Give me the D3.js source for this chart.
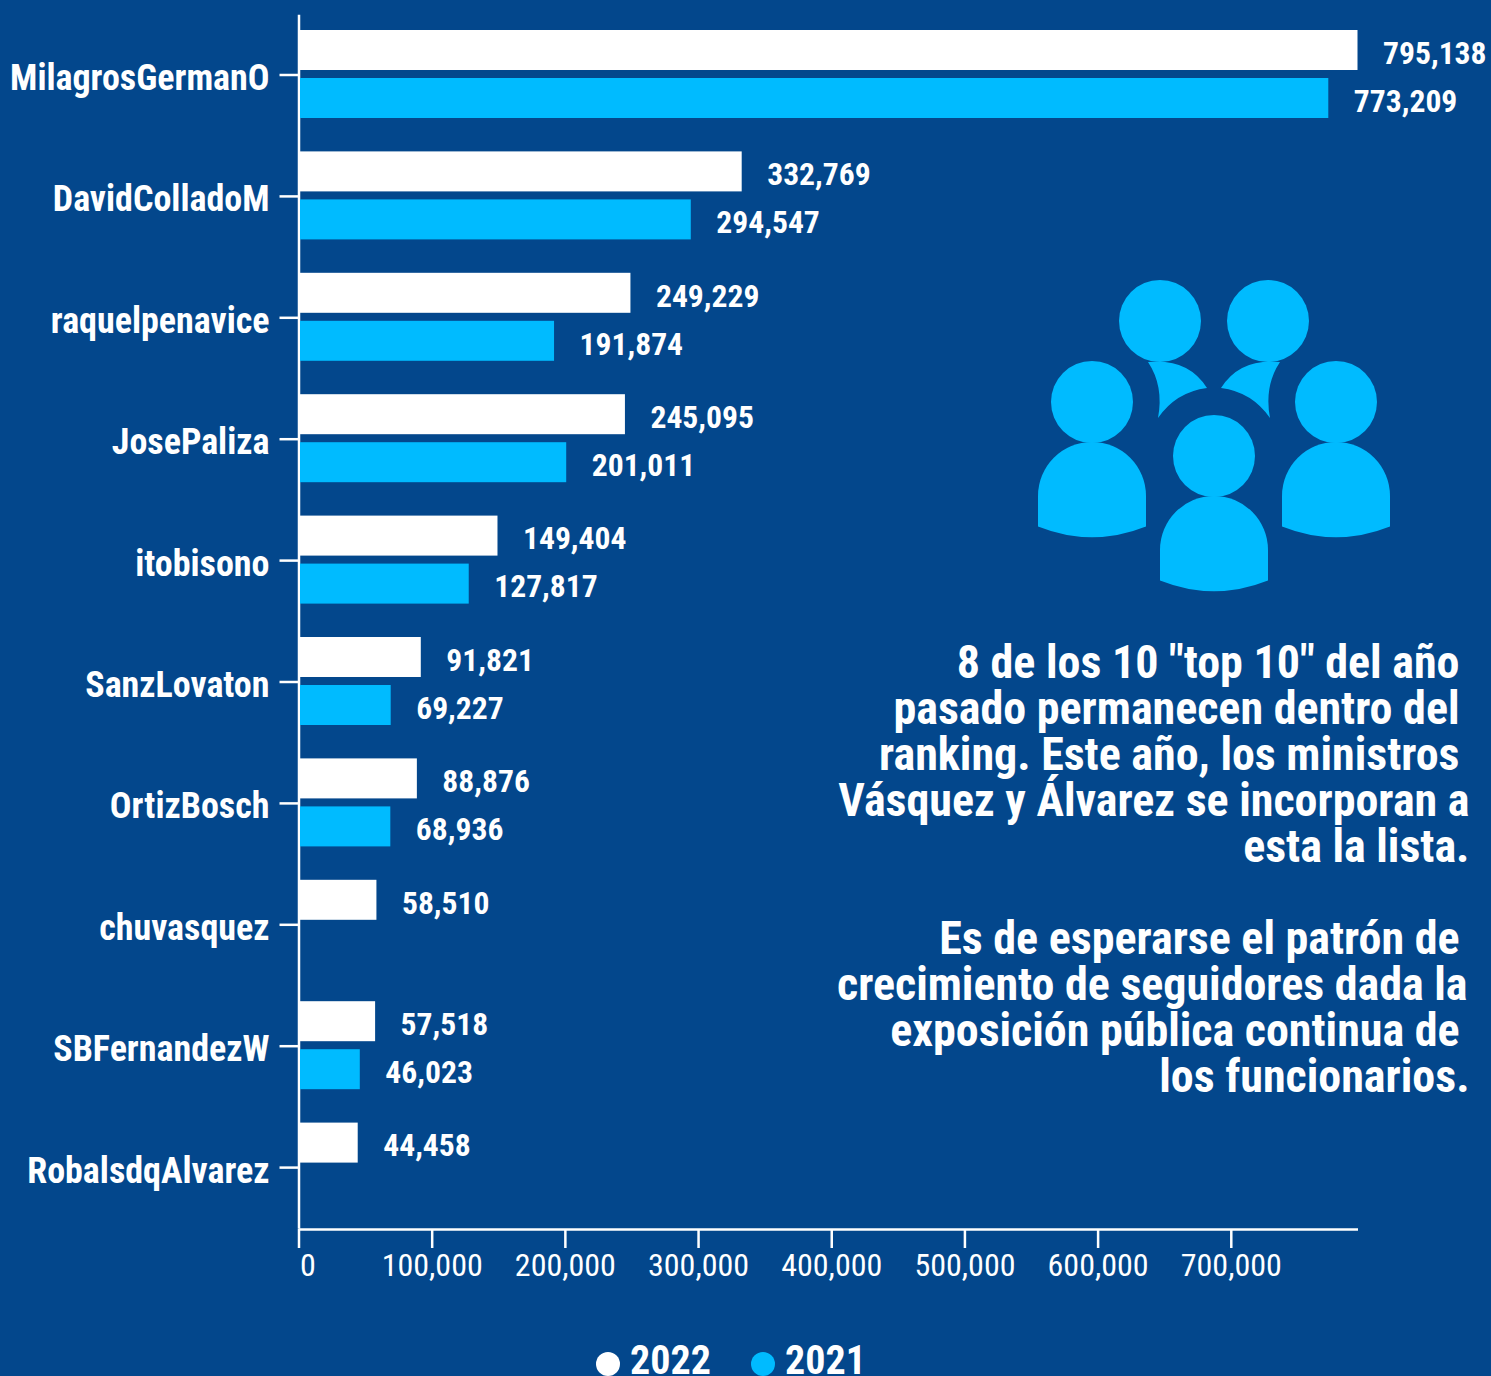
<!DOCTYPE html>
<html>
<head>
<meta charset="utf-8">
<script src="https://cdn.jsdelivr.net/npm/d3@7"></script>
<style>
html, body { margin: 0; padding: 0; background: #03478c; overflow: hidden; }
svg { display: block; }
text { font-family: "Roboto Condensed", Roboto, sans-serif; font-stretch: 75%; fill: #fff; }
</style>
</head>
<body>
<script>
const categories = ["MilagrosGermanO", "DavidColladoM", "raquelpenavice", "JosePaliza", "itobisono", "SanzLovaton", "OrtizBosch", "chuvasquez", "SBFernandezW", "RobalsdqAlvarez"];
const values2022 = [795138, 332769, 249229, 245095, 149404, 91821, 88876, 58510, 57518, 44458];
const values2021 = [773209, 294547, 191874, 201011, 127817, 69227, 68936, null, 46023, null];
const xTicks = [0, 100000, 200000, 300000, 400000, 500000, 600000, 700000];
const noteLines = [
	['8 de los 10 "top 10" del año', 1459.5],
	["pasado permanecen dentro del", 1459.5],
	["ranking. Este año, los ministros", 1459.5],
	["Vásquez y Álvarez se incorporan a", 1469.5],
	["esta la lista.", 1469.5],
	["", 0],
	["Es de esperarse el patrón de", 1459.5],
	["crecimiento de seguidores dada la", 1467.5],
	["exposición pública continua de", 1459.5],
	["los funcionarios.", 1469.5],
];

const WIDTH = 1491;
const HEIGHT = 1376;
const BLUE = "#00bbff";

const svg = d3.select("body").append("svg").attr("width", WIDTH).attr("height", HEIGHT);

const x = d3.scaleLinear().domain([0, 795138]).range([298.5, 1357.5]);
const y = d3.scaleBand().domain(categories).range([14.3, 1228.3]);
const fmt = d3.format(",");

// axes
const xAxis = svg.append("g").attr("transform", "translate(0,1229)")
	.call(d3.axisBottom(x).tickValues(xTicks).tickSizeInner(19).tickSizeOuter(0).tickFormat(fmt));
xAxis.selectAll("text").attr("font-size", 32).attr("dy", 0).attr("y", 47);
xAxis.selectAll("text").filter((d) => d === 0).attr("x", 9);

const yAxis = svg.append("g").attr("transform", "translate(298.5,0)")
	.call(d3.axisLeft(y).tickSizeInner(19).tickSizeOuter(0).tickPadding(10));
yAxis.selectAll("text").attr("font-size", 36).attr("font-weight", 700).attr("dy", "0.32em").attr("y", 3.5);
svg.selectAll(".domain, .tick line").attr("stroke", "#fff").attr("stroke-width", 2.5);

// bars
const rows = svg.append("g").selectAll("g").data(categories).enter().append("g")
	.attr("transform", (d) => `translate(0,${y(d) + y.bandwidth() / 2})`);

function drawSeries(values, top, color) {
	const withValue = rows.filter((d, i) => values[i] != null);
	withValue.append("rect")
		.attr("x", x(0) + 1.5)
		.attr("y", top)
		.attr("height", 40)
		.attr("width", (d) => x(values[categories.indexOf(d)]) - x(0) - 1.5)
		.attr("fill", color);
	withValue.append("text")
		.attr("x", (d) => x(values[categories.indexOf(d)]) + 25.5)
		.attr("y", top + 22.5)
		.attr("dy", "0.36em")
		.attr("font-size", 31.6)
		.attr("font-weight", 700)
		.text((d) => fmt(values[categories.indexOf(d)]));
}
drawSeries(values2022, -45, "#fff");
drawSeries(values2021, 3, BLUE);

// people icon
const icon = svg.append("g").attr("fill", BLUE);
[[1092, 402], [1336, 402], [1214, 456]].forEach(([cx, cy]) => {
	icon.append("circle").attr("cx", cx).attr("cy", cy).attr("r", 41);
	icon.append("path").attr("d", `M${cx - 54} ${cy + 124.5}V${cy + 94}A54 54 0 0 1 ${cx + 54} ${cy + 94}V${cy + 124.5}Q${cx} ${cy + 146} ${cx - 54} ${cy + 124.5}Z`);
});
[1160, 1268].forEach((cx) => icon.append("circle").attr("cx", cx).attr("cy", 321).attr("r", 41));
icon.append("path").attr("d", "M1148 362Q1188 358 1207 388Q1176 392 1158 418Q1164 386 1148 362Z");
icon.append("path").attr("d", "M1280 362Q1240 358 1221 388Q1252 392 1270 418Q1264 386 1280 362Z");

// note
svg.append("g").selectAll("text").data(noteLines).enter().append("text")
	.attr("x", (d) => d[1])
	.attr("y", (d, i) => 677.5 + i * 46)
	.attr("text-anchor", "end")
	.attr("font-size", 46)
	.attr("font-weight", 700)
	.text((d) => d[0]);

// legend
const legend = svg.append("g").selectAll("g").data([["2022", "#fff", 608], ["2021", BLUE, 763]]).enter().append("g");
legend.append("circle").attr("cx", (d) => d[2]).attr("cy", 1364).attr("r", 12).attr("fill", (d) => d[1]);
legend.append("text").attr("x", (d) => d[2] + 22).attr("y", 1374).attr("font-size", 40).attr("font-weight", 700).text((d) => d[0]);
</script>
</body>
</html>
